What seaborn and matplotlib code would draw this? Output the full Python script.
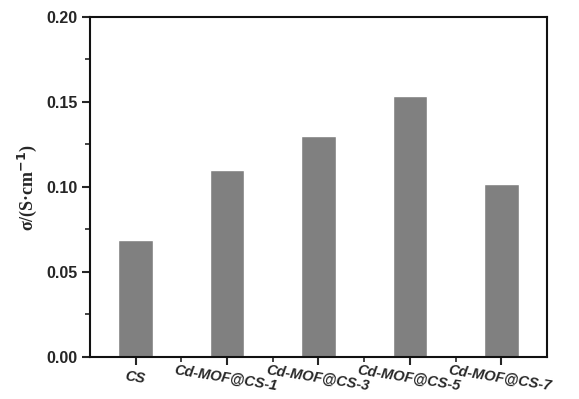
import matplotlib
matplotlib.use("Agg")
import matplotlib.pyplot as plt
import seaborn as sns
import pandas as pd
from matplotlib.ticker import MultipleLocator, FixedLocator

categories = ["CS", "Cd-MOF@CS-1", "Cd-MOF@CS-3", "Cd-MOF@CS-5", "Cd-MOF@CS-7"]
values = [0.0688, 0.110, 0.130, 0.1537, 0.1018]

df = pd.DataFrame({"sample": categories, "sigma": values})

sns.set_style("ticks")
plt.rcParams['font.family'] = ['Liberation Sans', 'DejaVu Sans']

fig = plt.figure(figsize=(5.79, 3.99), dpi=100)
ax = fig.add_axes([0.1554, 0.1053, 0.7893, 0.8521])

sns.barplot(data=df, x="sample", y="sigma", color="#808080", saturation=1,
            width=0.38, ax=ax)

ax.set_xlim(-0.5, 4.5)
ax.set_ylim(0, 0.20)
ax.yaxis.set_major_locator(MultipleLocator(0.05))
ax.yaxis.set_minor_locator(MultipleLocator(0.025))
ax.xaxis.set_minor_locator(FixedLocator([0.5, 1.5, 2.5, 3.5]))
ax.set_yticks([0, 0.05, 0.10, 0.15, 0.20])
ax.set_yticklabels(["0.00", "0.05", "0.10", "0.15", "0.20"], fontweight="bold", fontsize=11.5)
ax.set_xticks(range(len(categories)))
ax.set_xticklabels(categories, fontweight="bold", fontstyle="italic", fontsize=10.5,
                   rotation=-9, rotation_mode="anchor", ha="center", va="top")

for s in ax.spines.values():
    s.set_linewidth(1.5)
    s.set_color("#111111")
ax.tick_params(axis="both", which="major", direction="out", length=6, width=1.5, top=False, right=False)
ax.tick_params(axis="both", which="minor", direction="out", length=3.5, width=1.2, top=False, right=False)
ax.tick_params(axis="x", which="major", pad=4)
ax.tick_params(axis="y", which="major", pad=3)

ax.set_xlabel("")
ax.set_ylabel(r"σ/(S·cm$^{\mathbf{-1}}$)", fontfamily="Liberation Serif", fontweight="bold",
              fontsize=13, labelpad=5)

fig.savefig("out.png", dpi=100)
